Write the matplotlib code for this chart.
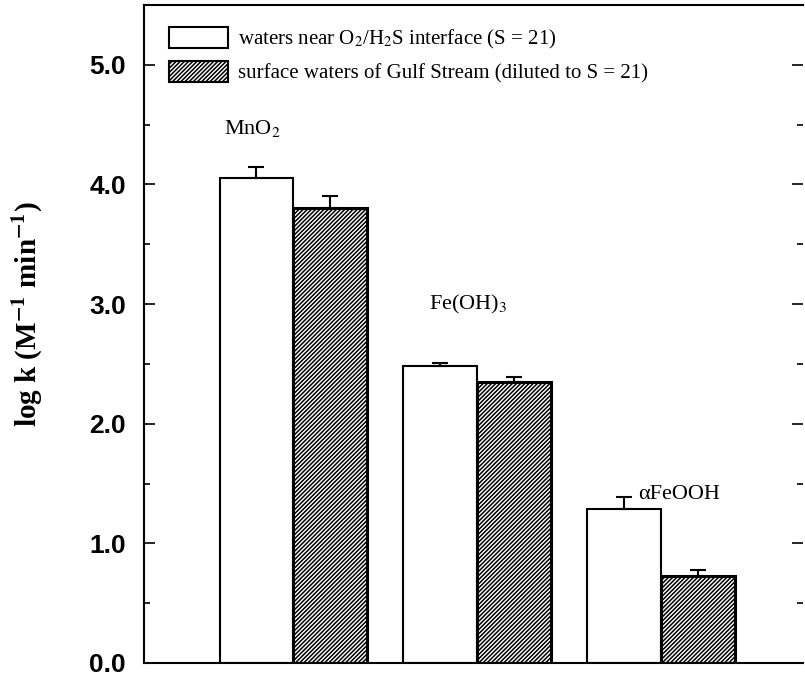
import numpy as np
import matplotlib.pyplot as plt
from matplotlib.patches import Patch

plt.rcParams['mathtext.fontset'] = 'stix'
plt.rcParams['hatch.linewidth'] = 1.1

oxides = ['MnO$_2$', 'Fe(OH)$_3$', 'αFeOOH']
interface = [4.05, 2.48, 1.29]
interface_err = [0.10, 0.03, 0.10]
gulf = [3.80, 2.35, 0.73]
gulf_err = [0.10, 0.04, 0.05]
yticks = [0.0, 1.0, 2.0, 3.0, 4.0, 5.0]

serif = 'Liberation Serif'
hatch = '////////'
fig = plt.figure(figsize=(8.05, 6.79), dpi=100)
ax = fig.add_axes([0.179, 0.0236, 0.818, 0.969])

x = np.arange(1, len(oxides) + 1)
w = 0.4
ax.bar(x - w / 2, interface, w, color='white', edgecolor='black', linewidth=1.5)
ax.bar(x + w / 2, gulf, w, color='white', edgecolor='black', hatch=hatch,
       linewidth=2.2)
ax.errorbar(x - w / 2, interface, yerr=[np.zeros(3), interface_err], fmt='none',
            ecolor='black', elinewidth=1.5, capsize=6, capthick=1.5)
ax.errorbar(x + w / 2, gulf, yerr=[np.zeros(3), gulf_err], fmt='none',
            ecolor='black', elinewidth=1.5, capsize=6, capthick=1.5)

# compound names above each pair
label_x = [0.777, 1.95, 3.10]
label_y = [4.47, 3.0, 1.41]
for name, lx, ly in zip(oxides, label_x, label_y):
    ax.text(lx, ly, name, ha='center', va='center', family=serif, fontsize=16)

ax.set_xlim(0.19, 3.77)
ax.set_ylim(0, 5.5)
ax.set_xticks([])
ax.set_yticks(yticks)
ax.set_yticklabels(['%.1f' % t for t in yticks], fontweight='bold',
                   family='Liberation Sans', fontsize=19)
ax.set_yticks(np.arange(0.5, 5.5, 1.0), minor=True)
ax.tick_params(axis='y', which='major', direction='in', length=8, width=1.2,
               left=True, right=True, pad=13)
ax.tick_params(axis='y', which='minor', direction='in', length=4, width=1.2,
               left=True, right=True)
ax.spines['right'].set_visible(False)
for s in ['left', 'bottom', 'top']:
    ax.spines[s].set_linewidth(1.5)

ax.set_ylabel(r'log k (M$^{\mathbf{-1}}$ min$^{\mathbf{-1}}$)', family=serif,
              fontweight='bold', fontsize=21)
ax.yaxis.set_label_coords(-0.15, 0.53)

handles = [Patch(facecolor='white', edgecolor='black', linewidth=1.5),
           Patch(facecolor='white', edgecolor='black', hatch=hatch,
                 linewidth=1.5)]
labels = ['waters near O$_2$/H$_2$S interface (S = 21)',
          'surface waters of Gulf Stream (diluted to S = 21)']
ax.legend(handles, labels, loc='upper left', bbox_to_anchor=(0.010, 0.995),
          frameon=False, prop={'family': serif, 'size': 15},
          handlelength=2.8, handleheight=1.2, handletextpad=0.5,
          labelspacing=0.45)

fig.savefig('out.png', dpi=100)
